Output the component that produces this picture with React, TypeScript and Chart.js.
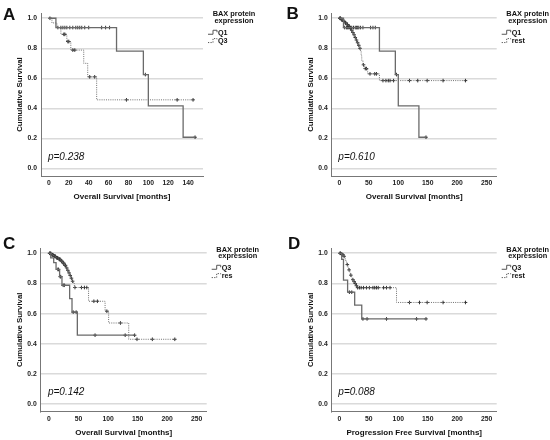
import React, { useEffect, useRef } from 'react';
import { Chart, registerables } from 'chart.js';

Chart.register(...registerables);

// ---- values ----
const yTicks = [0, 0.2, 0.4, 0.6, 0.8, 1.0];
const xTicksShort = [0, 20, 40, 60, 80, 100, 120, 140];
const xTicksLong = [0, 50, 100, 150, 200, 250];

// Q1, overall survival (panels A and B)
const q1OsTimes = [0, 7, 68, 95, 100, 135];
const q1OsSurv = [1.0, 0.938, 0.781, 0.625, 0.417, 0.208];
const q1OsCensored = [1, 9, 12, 14, 16, 18, 21, 24, 27, 29, 31, 33, 36, 40, 53, 57, 61, 97, 147];

// Q3, overall survival (panels A and C)
const q3OsTimes = [0, 3, 8, 12, 18, 22, 35, 39, 48];
const q3OsSurv = [1.0, 0.969, 0.938, 0.893, 0.845, 0.788, 0.7, 0.61, 0.457];
const q3OsCensored = [15, 16, 19, 20, 24, 26, 41, 46, 78, 129, 145];

// rest vs Q1, overall survival (panel B)
const restBTimes = [0, 3, 6, 9, 12, 15, 18, 20, 22, 24, 26, 28, 30, 32, 34, 36, 37, 38, 40, 42, 48, 68];
const restBSurv = [1.0, 0.99, 0.98, 0.97, 0.958, 0.946, 0.934, 0.92, 0.905, 0.89, 0.872, 0.855, 0.837, 0.82, 0.8, 0.78, 0.75, 0.72, 0.69, 0.665, 0.63, 0.585];
const restBCensored = [1, 2, 4, 5, 7, 8, 10, 11, 13, 14, 16, 17, 19, 21, 23, 25, 27, 29, 31, 33, 35, 41, 44, 46, 52, 60, 63, 74, 79, 83, 86, 92, 119, 133, 149, 176, 214];

// rest vs Q3, overall survival (panel C)
const restCTimes = [0, 4, 8, 12, 16, 20, 23, 26, 29, 31, 33, 35, 37, 39, 41, 43, 67, 95, 101, 135];
const restCSurv = [1.0, 0.99, 0.98, 0.97, 0.96, 0.948, 0.935, 0.92, 0.903, 0.887, 0.87, 0.853, 0.835, 0.815, 0.8, 0.773, 0.682, 0.616, 0.538, 0.43];
const restCCensored = [1, 2, 3, 5, 6, 7, 9, 10, 11, 13, 14, 15, 17, 18, 19, 21, 22, 24, 25, 27, 28, 30, 32, 34, 36, 38, 40, 44, 55, 60, 64, 76, 82, 98, 121, 149, 175, 213];

// Q3, progression free survival (panel D)
const q3PfsTimes = [0, 4, 7, 14, 26, 38];
const q3PfsSurv = [1.0, 0.96, 0.822, 0.742, 0.656, 0.565];
const q3PfsCensored = [17, 21, 40, 47, 80, 131, 147];

// rest, progression free survival (panel D)
const restDTimes = [0, 3, 5, 7, 9, 10, 11, 12, 13, 14, 15, 16, 17, 18, 19, 20, 21, 22, 24, 26, 28, 30, 97];
const restDSurv = [1.0, 0.995, 0.99, 0.98, 0.97, 0.96, 0.95, 0.94, 0.925, 0.91, 0.9, 0.89, 0.878, 0.866, 0.855, 0.845, 0.835, 0.825, 0.812, 0.8, 0.785, 0.772, 0.674];
const restDCensored = [1, 2, 4, 6, 8, 13.5, 16.5, 19.5, 23, 25, 27, 29, 31, 34, 37, 41, 46, 51, 57, 60, 63, 66, 75, 80, 86, 119, 136, 149, 176, 214];

const FONT = "'Liberation Sans', Arial, Helvetica, sans-serif";

interface Group {
  label: string;
  times: number[];
  surv: number[];
  censored: number[];
  dotted: boolean;
}

interface PanelProps {
  x: number;
  y: number;
  letter: string;
  letterPos: [number, number];
  pText: string;
  xTitle: string;
  xMin: number;
  xMax: number;
  xTicks: number[];
  box: { left: number; top: number; right: number; bottom: number };
  groups: Group[];
}

const W = 275;
const H = 220;

function survivalAt(g: Group, t: number) {
  let s = g.surv[0];
  g.times.forEach((tt, i) => {
    if (tt <= t) s = g.surv[i];
  });
  return s;
}

function stepPoints(g: Group) {
  const pts = g.times.map((t, i) => ({ x: t, y: g.surv[i] }));
  const end = Math.max(...g.censored);
  if (end > g.times[g.times.length - 1]) pts.push({ x: end, y: g.surv[g.surv.length - 1] });
  return pts;
}

const Panel: React.FC<PanelProps> = (p) => {
  const canvasRef = useRef<HTMLCanvasElement>(null);

  useEffect(() => {
    if (!canvasRef.current) return;
    const datasets: any[] = [];
    p.groups.forEach((g) => {
      datasets.push({
        label: g.label,
        data: stepPoints(g),
        stepped: true,
        borderColor: g.dotted ? '#707070' : '#6a6a6a',
        borderWidth: g.dotted ? 1 : 1.3,
        borderDash: g.dotted ? [1, 1.2] : [],
        pointRadius: 0,
        fill: false,
      });
      datasets.push({
        label: g.label + ' censored',
        data: g.censored.map((t) => ({ x: t, y: survivalAt(g, t) })),
        showLine: false,
        pointStyle: 'cross',
        pointRadius: 1.8,
        pointBorderWidth: 1,
        borderColor: '#333',
        backgroundColor: '#333',
      });
    });

    const box = p.box;
    const decor = {
      id: 'decor',
      afterDraw(chart: Chart) {
        const { ctx, chartArea, scales } = chart;
        const xs = scales.x;
        const ys = scales.y;
        ctx.save();
        ctx.fillStyle = '#111';
        // panel letter
        ctx.font = `bold 17px ${FONT}`;
        ctx.textAlign = 'left';
        ctx.textBaseline = 'alphabetic';
        ctx.fillText(p.letter, p.letterPos[0], p.letterPos[1]);
        // legend
        const y1 = ys.getPixelForValue(1);
        const cx = chartArea.right + 31;
        ctx.font = `bold 7.4px ${FONT}`;
        ctx.textAlign = 'center';
        ctx.textBaseline = 'middle';
        ctx.fillText('BAX protein', cx, y1 - 3.8);
        ctx.fillText('expression', cx, y1 + 2.8);
        const lx = chartArea.right + 5;
        p.groups.forEach((g, i) => {
          const yy = y1 + 14 + i * 8.3;
          ctx.strokeStyle = '#555';
          ctx.lineWidth = 1;
          ctx.setLineDash(g.dotted ? [1.2, 1.3] : []);
          ctx.beginPath();
          ctx.moveTo(lx, yy + 2);
          ctx.lineTo(lx + 5, yy + 2);
          ctx.lineTo(lx + 5, yy - 2);
          ctx.lineTo(lx + 9, yy - 2);
          ctx.lineTo(lx + 9, yy);
          ctx.stroke();
          ctx.setLineDash([]);
          ctx.font = `bold 7.2px ${FONT}`;
          ctx.textAlign = 'left';
          ctx.fillText(g.label, lx + 10, yy + 0.5);
        });
        // p value
        ctx.font = `italic 10px ${FONT}`;
        ctx.textAlign = 'left';
        ctx.textBaseline = 'middle';
        ctx.fillText(p.pText, xs.getPixelForValue(0) - 1, ys.getPixelForValue(0) - 11.5);
        ctx.restore();
      },
    };

    const chart = new Chart(canvasRef.current, {
      type: 'line',
      data: { datasets },
      options: {
        animation: false,
        responsive: true,
        maintainAspectRatio: false,
        events: [],
        layout: { padding: { left: 0, bottom: 0, top: box.top, right: W - box.right } },
        plugins: { legend: { display: false }, tooltip: { enabled: false } },
        scales: {
          x: {
            type: 'linear',
            min: p.xMin,
            max: p.xMax,
            afterFit: (s: any) => {
              s.height = H - box.bottom;
            },
            afterBuildTicks: (s: any) => {
              s.ticks = p.xTicks.map((v) => ({ value: v }));
            },
            grid: { display: false, drawTicks: false },
            border: { color: '#777', width: 1 },
            ticks: { padding: 3.5, color: '#222', maxRotation: 0, autoSkip: false, font: { family: FONT, size: 6.8, weight: 'bold' } },
            title: {
              display: true,
              text: p.xTitle,
              color: '#111',
              font: { family: FONT, size: 8, weight: 'bold' },
              padding: { top: 0, bottom: H - box.bottom - 21 - 4.8 },
            },
          },
          y: {
            min: -0.05,
            max: 1.035,
            afterFit: (s: any) => {
              s.width = box.left;
            },
            afterBuildTicks: (s: any) => {
              s.ticks = yTicks.map((v) => ({ value: v }));
            },
            grid: { color: '#dadada', lineWidth: 1.6, drawTicks: false },
            border: { color: '#777', width: 1 },
            ticks: {
              padding: 4,
              color: '#222',
              font: { family: FONT, size: 6.8, weight: 'bold' },
              callback: (v: any) => Number(v).toFixed(1),
            },
            title: {
              display: true,
              text: 'Cumulative Survival',
              color: '#111',
              font: { family: FONT, size: 7.8, weight: 'bold' },
              padding: { top: box.left - 21 - 4.7, bottom: 0 },
            },
          },
        },
      },
      plugins: [decor],
    });
    return () => chart.destroy();
  }, [p]);

  return (
    <div style={{ position: 'absolute', left: p.x, top: p.y, width: W, height: H }}>
      <canvas ref={canvasRef}></canvas>
    </div>
  );
};

const q1Os: Group = { label: 'Q1', times: q1OsTimes, surv: q1OsSurv, censored: q1OsCensored, dotted: false };
const q3OsDotted: Group = { label: 'Q3', times: q3OsTimes, surv: q3OsSurv, censored: q3OsCensored, dotted: true };
const restB: Group = { label: 'rest', times: restBTimes, surv: restBSurv, censored: restBCensored, dotted: true };
const q3OsSolid: Group = { label: 'Q3', times: q3OsTimes, surv: q3OsSurv, censored: q3OsCensored, dotted: false };
const restC: Group = { label: 'res', times: restCTimes, surv: restCSurv, censored: restCCensored, dotted: true };
const q3Pfs: Group = { label: 'Q3', times: q3PfsTimes, surv: q3PfsSurv, censored: q3PfsCensored, dotted: false };
const restD: Group = { label: 'rest', times: restDTimes, surv: restDSurv, censored: restDCensored, dotted: true };

const panels: PanelProps[] = [
  {
    x: 0, y: 0, letter: 'A', letterPos: [3, 19.5], pText: 'p=0.238', xTitle: 'Overall Survival [months]',
    xMin: -8, xMax: 155, xTicks: xTicksShort,
    box: { left: 41, top: 13, right: 203, bottom: 176 }, groups: [q1Os, q3OsDotted],
  },
  {
    x: 275, y: 0, letter: 'B', letterPos: [11.5, 18.5], pText: 'p=0.610', xTitle: 'Overall Survival [months]',
    xMin: -13, xMax: 267, xTicks: xTicksLong,
    box: { left: 56.7, top: 13, right: 221.7, bottom: 176 }, groups: [q1Os, restB],
  },
  {
    x: 0, y: 220, letter: 'C', letterPos: [3, 28.5], pText: 'p=0.142', xTitle: 'Overall Survival [months]',
    xMin: -14, xMax: 267, xTicks: xTicksLong,
    box: { left: 40.7, top: 28, right: 206.7, bottom: 191.7 }, groups: [q3OsSolid, restC],
  },
  {
    x: 275, y: 220, letter: 'D', letterPos: [13, 29], pText: 'p=0.088', xTitle: 'Progression Free Survival [months]',
    xMin: -13, xMax: 267, xTicks: xTicksLong,
    box: { left: 56.7, top: 28, right: 221.7, bottom: 191.7 }, groups: [q3Pfs, restD],
  },
];

export default function App() {
  return (
    <div style={{ position: 'fixed', left: 0, top: 0, width: 550, height: 440, background: '#fff' }}>
      {panels.map((p) => (
        <Panel key={p.letter} {...p} />
      ))}
    </div>
  );
}
